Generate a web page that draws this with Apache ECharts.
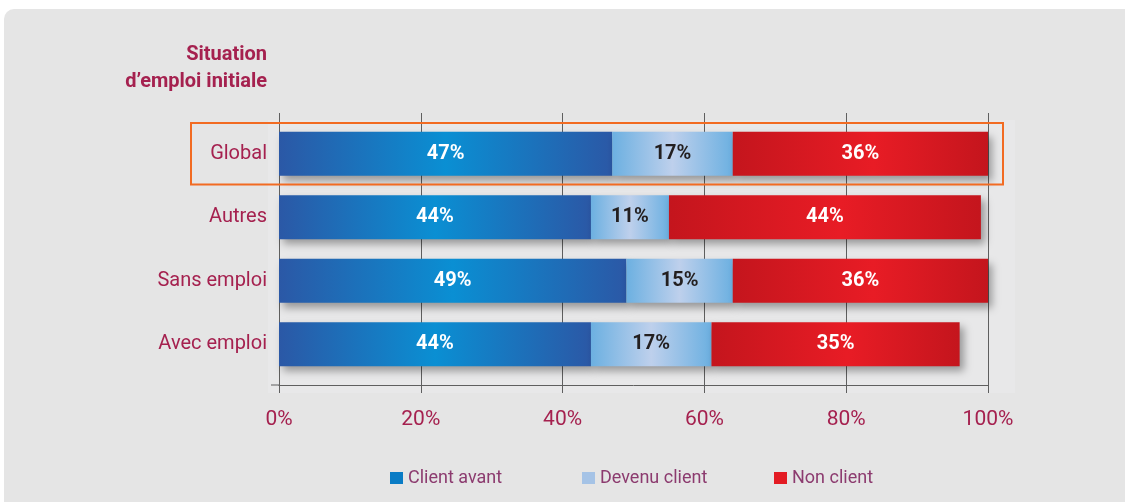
<!DOCTYPE html>
<html>
<head>
<meta charset="utf-8">
<script src="https://cdn.jsdelivr.net/npm/echarts@6/dist/echarts.min.js"></script>
<style>
  html, body { margin: 0; padding: 0; background: #ffffff; }
  #chart { width: 1125px; height: 502px; }
</style>
</head>
<body>
<div id="chart"></div>
<script>
// Répartition des clients selon la situation d'emploi initiale (en %)
const categories = ['Global', 'Autres', 'Sans emploi', 'Avec emploi'];
const clientAvant = [47, 44, 49, 44];
const devenuClient = [17, 11, 15, 17];
const nonClient = [36, 44, 36, 35];
const tickLabels = ['0%', '20%', '40%', '60%', '80%', '100%'];
const seriesNames = ['Client avant', 'Devenu client', 'Non client'];
const legendColors = ['#0a7cc5', '#a5c3e6', '#e31b23'];
const highlighted = 'Global';

const FONT = 'Roboto, "Noto Sans", sans-serif';
const CRIMSON = '#a5214f';
const LEGEND_TEXT = '#8c3b6f';
const GRID_LINE = '#5f5f5f';

// Horizontal gradient: darker edges, lighter centre
function shade(edge, mid, midAt) {
  return new echarts.graphic.LinearGradient(0, 0, 1, 0, [
    { offset: 0, color: edge },
    { offset: midAt, color: mid },
    { offset: 1, color: edge }
  ]);
}

const barShadow = {
  shadowBlur: 8,
  shadowColor: 'rgba(0,0,0,0.35)',
  shadowOffsetX: 4,
  shadowOffsetY: 5
};

function barSeries(name, data, fill, textColor) {
  return {
    name: name,
    type: 'bar',
    stack: 'total',
    xAxisIndex: 0,
    yAxisIndex: 0,
    barWidth: 44,
    data: data,
    itemStyle: Object.assign({ color: fill }, barShadow),
    emphasis: { disabled: true },
    label: {
      show: true,
      position: 'inside',
      formatter: '{c}%',
      color: textColor,
      fontFamily: FONT,
      fontWeight: 'bold',
      fontSize: 20,
      padding: [4, 0, 0, 0]
    }
  };
}

// One legend block per series, evenly spaced along the bottom
function legendBlock(i) {
  return {
    left: 390 + i * 192, top: 469, padding: 0,
    itemWidth: 13, itemHeight: 12,
    selectedMode: false,
    icon: 'rect',
    textStyle: { color: LEGEND_TEXT, fontFamily: FONT, fontSize: 18 },
    data: [{
      name: seriesNames[i],
      itemStyle: { color: legendColors[i], shadowBlur: 0, shadowOffsetX: 0, shadowOffsetY: 0 }
    }]
  };
}

const chart = echarts.init(document.getElementById('chart'), null, { renderer: 'canvas' });

const option = {
  animation: false,
  backgroundColor: 'transparent',
  grid: [
    { left: 279, width: 709, top: 122, height: 254 },   // bars
    { left: 279, width: 709, top: 113, height: 280 }    // frame and ticks
  ],
  xAxis: [
    {
      gridIndex: 0, type: 'value', min: 0, max: 100, offset: 9,
      axisLine: { show: true, lineStyle: { color: GRID_LINE, width: 1 } },
      axisTick: { show: false }, axisLabel: { show: false }, splitLine: { show: false }
    },
    {
      gridIndex: 1, type: 'value', min: 0, max: 100, interval: 20,
      axisLine: { show: false }, axisTick: { show: false },
      splitLine: { show: true, lineStyle: { color: GRID_LINE, width: 1 } },
      axisLabel: {
        margin: 16,
        color: CRIMSON, fontFamily: FONT, fontSize: 21,
        formatter: function (v) { return tickLabels[Math.round(v / 20)]; }
      }
    }
  ],
  yAxis: [
    {
      gridIndex: 0, type: 'category', data: categories, inverse: true,
      axisLine: { show: false }, axisTick: { show: false },
      axisLabel: { margin: 12, color: CRIMSON, fontFamily: FONT, fontSize: 20, padding: [6, 0, 0, 0] }
    },
    { gridIndex: 1, type: 'value', min: 0, max: 1, show: false }
  ],
  legend: [legendBlock(0), legendBlock(1), legendBlock(2)],
  series: [
    barSeries(seriesNames[0], clientAvant, shade('#2b58a6', '#0a8fd3', 0.5), '#ffffff'),
    barSeries(seriesNames[1], devenuClient, shade('#6cb0e1', '#bed0ec', 0.5), '#231f20'),
    barSeries(seriesNames[2], nonClient, shade('#c4151d', '#e81c25', 0.55), '#ffffff')
  ]
};

chart.setOption(option);

// Decorations placed from the axes' own scales
const x0 = chart.convertToPixel({ xAxisIndex: 0 }, 0);
const x100 = chart.convertToPixel({ xAxisIndex: 0 }, 100);
const yFirst = chart.convertToPixel({ yAxisIndex: 0 }, categories[0]);
const ySecond = chart.convertToPixel({ yAxisIndex: 0 }, categories[1]);
const band = ySecond - yFirst;
const yHi = chart.convertToPixel({ yAxisIndex: 0 }, highlighted);
const yLast = chart.convertToPixel({ yAxisIndex: 0 }, categories[categories.length - 1]);
const axisY = yLast + band / 2 + 9;
const frameTop = yFirst - band / 2 - 9;

chart.setOption({
  graphic: [
    {
      type: 'rect', z: -20, silent: true,
      shape: { x: 4, y: 9, width: 1140, height: 520, r: [10, 0, 0, 10] },
      style: { fill: '#e5e5e5' }
    },
    {
      type: 'rect', z: -10, silent: true,
      shape: { x: x0 - 11, y: yFirst - band / 2 - 2, width: (x100 - x0) + 38, height: axisY + 8 - (yFirst - band / 2 - 2) },
      style: { fill: '#e8e8e9' }
    },
    {
      type: 'line', silent: true, z: 5,
      shape: { x1: x0 - 8, y1: axisY, x2: x0, y2: axisY },
      style: { stroke: GRID_LINE, lineWidth: 1 }
    },
    {
      type: 'rect', silent: true, z: 10,
      shape: { x: x0 - 88, y: yHi - band / 2 + 1, width: (x100 - x0) + 103, height: band - 2 },
      style: { fill: 'none', stroke: '#f26b22', lineWidth: 2 }
    },
    {
      type: 'text', silent: true, z: 10,
      x: x0 - 12, y: frameTop - 72,
      style: {
        text: 'Situation\nd\u2019emploi initiale',
        align: 'right', verticalAlign: 'top',
        fill: CRIMSON, fontFamily: FONT, fontWeight: 'bold', fontSize: 20, lineHeight: 27
      }
    }
  ]
});
</script>
</body>
</html>
